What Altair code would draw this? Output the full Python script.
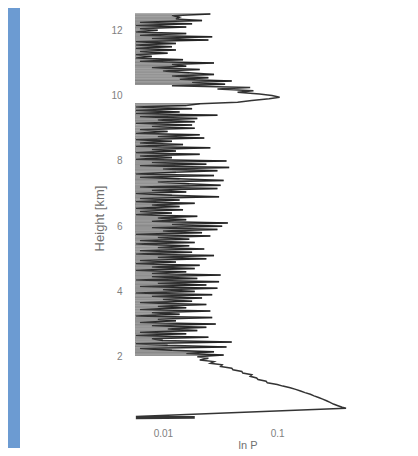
import altair as alt
import pandas as pd

# Height [km] of each sample of the profile (upper, noisy part)
upper_height_km = [
    12.50, 12.45, 12.40, 12.35, 12.30, 12.25, 12.20, 12.15, 12.10, 12.05,
    12.00, 11.95, 11.90, 11.85, 11.80, 11.75, 11.70, 11.65, 11.60, 11.55,
    11.50, 11.45, 11.40, 11.35, 11.30, 11.25, 11.20, 11.15, 11.10, 11.05,
    11.00, 10.95, 10.90, 10.85, 10.80, 10.75, 10.70, 10.65, 10.60, 10.55,
    10.50, 10.45, 10.40, 10.35, 10.30, 10.25, 10.20, 10.15, 10.10, 10.05,
    10.00, 9.95, 9.90, 9.85, 9.80, 9.75, 9.70, 9.65, 9.60, 9.55,
    9.50, 9.45, 9.40, 9.35, 9.30, 9.25, 9.20, 9.15, 9.10, 9.05,
    9.00, 8.95, 8.90, 8.85, 8.80, 8.75, 8.70, 8.65, 8.60, 8.55,
    8.50, 8.45, 8.40, 8.35, 8.30, 8.25, 8.20, 8.15, 8.10, 8.05,
    8.00, 7.95, 7.90, 7.85, 7.80, 7.75, 7.70, 7.65, 7.60, 7.55,
    7.50, 7.45, 7.40, 7.35, 7.30, 7.25, 7.20, 7.15, 7.10, 7.05,
    7.00, 6.95, 6.90, 6.85, 6.80, 6.75, 6.70, 6.65, 6.60, 6.55,
    6.50, 6.45, 6.40, 6.35, 6.30, 6.25, 6.20, 6.15, 6.10, 6.05,
    6.00, 5.95, 5.90, 5.85, 5.80, 5.75, 5.70, 5.65, 5.60, 5.55,
    5.50, 5.45, 5.40, 5.35, 5.30, 5.25, 5.20, 5.15, 5.10, 5.05,
    5.00, 4.95, 4.90, 4.85, 4.80, 4.75, 4.70, 4.65, 4.60, 4.55,
    4.50, 4.45, 4.40, 4.35, 4.30, 4.25, 4.20, 4.15, 4.10, 4.05,
    4.00, 3.95, 3.90, 3.85, 3.80, 3.75, 3.70, 3.65, 3.60, 3.55,
    3.50, 3.45, 3.40, 3.35, 3.30, 3.25, 3.20, 3.15, 3.10, 3.05,
    3.00, 2.95, 2.90, 2.85, 2.80, 2.75, 2.70, 2.65, 2.60, 2.55,
    2.50, 2.45, 2.40, 2.35, 2.30, 2.25, 2.20, 2.15, 2.10, 2.05,
]
upper_p = [
    0.026, 0.012, 0.014, 0.013, 0.022, 0.0063, 0.018, 0.0058, 0.016, 0.0063,
    0.009, 0.0058, 0.016, 0.0063, 0.027, 0.008, 0.025, 0.0058, 0.013, 0.0058,
    0.012, 0.0058, 0.013, 0.0063, 0.011, 0.0058, 0.008, 0.0058, 0.015, 0.0063,
    0.028, 0.012, 0.016, 0.008, 0.021, 0.010, 0.017, 0.028, 0.012, 0.025,
    0.014, 0.040, 0.018, 0.035, 0.012, 0.058, 0.030, 0.062, 0.045, 0.070,
    0.090, 0.105, 0.085, 0.060, 0.045, 0.021, 0.016, 0.0058, 0.018, 0.0058,
    0.014, 0.0058, 0.030, 0.0063, 0.020, 0.009, 0.019, 0.0058, 0.018, 0.008,
    0.019, 0.0063, 0.011, 0.0058, 0.021, 0.009, 0.023, 0.0058, 0.012, 0.0063,
    0.015, 0.0058, 0.026, 0.008, 0.013, 0.0058, 0.021, 0.0063, 0.012, 0.0058,
    0.036, 0.008, 0.024, 0.0063, 0.038, 0.010, 0.030, 0.013, 0.0058, 0.028,
    0.0063, 0.014, 0.034, 0.009, 0.017, 0.032, 0.0063, 0.030, 0.008, 0.016,
    0.0058, 0.012, 0.031, 0.0063, 0.014, 0.0058, 0.019, 0.008, 0.014, 0.0058,
    0.015, 0.0063, 0.012, 0.0058, 0.020, 0.009, 0.016, 0.008, 0.037, 0.012,
    0.033, 0.008, 0.030, 0.010, 0.022, 0.0058, 0.026, 0.009, 0.017, 0.0063,
    0.019, 0.0058, 0.017, 0.009, 0.023, 0.0063, 0.018, 0.0058, 0.028, 0.009,
    0.024, 0.0063, 0.013, 0.0058, 0.021, 0.008, 0.019, 0.0058, 0.016, 0.008,
    0.032, 0.008, 0.020, 0.0058, 0.031, 0.009, 0.024, 0.0063, 0.030, 0.010,
    0.019, 0.0058, 0.027, 0.008, 0.022, 0.010, 0.018, 0.0063, 0.024, 0.009,
    0.016, 0.0063, 0.026, 0.008, 0.014, 0.0058, 0.027, 0.009, 0.013, 0.0063,
    0.029, 0.008, 0.024, 0.011, 0.020, 0.0063, 0.016, 0.0058, 0.025, 0.008,
    0.010, 0.040, 0.0058, 0.011, 0.036, 0.0063, 0.012, 0.028, 0.016, 0.034,
]

# Lower part: smooth decrease from the surface peak, then near-ground samples
lower_height_km = [
    2.00, 1.95, 1.90, 1.85, 1.80, 1.75, 1.70, 1.65, 1.60, 1.55,
    1.50, 1.45, 1.40, 1.35, 1.30, 1.25, 1.20, 1.15, 1.10, 1.05,
    1.00, 0.95, 0.90, 0.85, 0.80, 0.75, 0.70, 0.65, 0.60, 0.55,
    0.50, 0.45, 0.42,
    0.17, 0.16, 0.15, 0.14, 0.13, 0.12, 0.11,
]
lower_p = [
    0.020, 0.025, 0.021, 0.028, 0.026, 0.033, 0.032, 0.040, 0.041, 0.049,
    0.050, 0.060, 0.058, 0.066, 0.068, 0.080, 0.082, 0.100, 0.112, 0.130,
    0.145, 0.160, 0.175, 0.195, 0.210, 0.230, 0.250, 0.270, 0.290, 0.310,
    0.340, 0.370, 0.400,
    0.0058, 0.019, 0.0058, 0.018, 0.0058, 0.019, 0.0058,
]

x_ticks = [0.01, 0.1]
y_ticks = [2, 4, 6, 8, 10, 12]
x_domain = [0.0057, 0.53]

heights = upper_height_km + lower_height_km
pvals = upper_p + lower_p
df = pd.DataFrame({"h": heights, "p": pvals, "i": list(range(len(heights)))})

W, H = 225, 408
FONT = "Liberation Sans"

x_scale = alt.Scale(type="log", domain=x_domain, nice=False)
x_enc = alt.X("p:Q", title="ln P", scale=x_scale,
              axis=alt.Axis(values=x_ticks, format="~g", grid=False, ticks=False, domain=False,
                            labelFontSize=10, labelColor="#808080", labelPadding=6,
                            titleFontSize=11, titleColor="#707070", titleFontWeight="normal",
                            titlePadding=1, labelFont=FONT, titleFont=FONT))
y_enc = alt.Y("h:Q", title="Height [km]",
              scale=alt.Scale(domain=[0, 12.5], nice=False, zero=False),
              axis=alt.Axis(values=y_ticks, grid=False, ticks=False, domain=False,
                            labelFontSize=10, labelColor="#808080", labelPadding=13,
                            titleFontSize=13, titleColor="#707070", titleFontWeight="normal",
                            titlePadding=4, labelFont=FONT, titleFont=FONT))

# grey streaks between the left edge and each sample of the noisy part
shade = alt.Chart(df).transform_filter(
    "(datum.h >= 2.05 && datum.h <= 9.75) || datum.h >= 10.35"
).mark_rule(color="#000000", strokeWidth=1.7, opacity=0.42).encode(
    x=x_enc, x2=alt.value(0), y=y_enc,
)

line = alt.Chart(df).mark_line(color="#111111", strokeWidth=1.5, opacity=0.85).encode(
    x=x_enc, y=y_enc, order=alt.Order("i:Q"),
)

strip = alt.Chart(alt.Data(values=[{"a": 1}])).mark_rect(color="#6c9bd2").encode(
    x=alt.value(-127), x2=alt.value(-115), y=alt.value(-6), y2=alt.value(434)
)

chart = alt.layer(strip, shade, line).properties(
    width=W, height=H,
    padding={"left": 0, "top": 0, "right": 5, "bottom": 0},
    background="#ffffff",
).configure_view(stroke=None)

chart.save("out.html", embed_options={"renderer": "svg", "actions": False})
